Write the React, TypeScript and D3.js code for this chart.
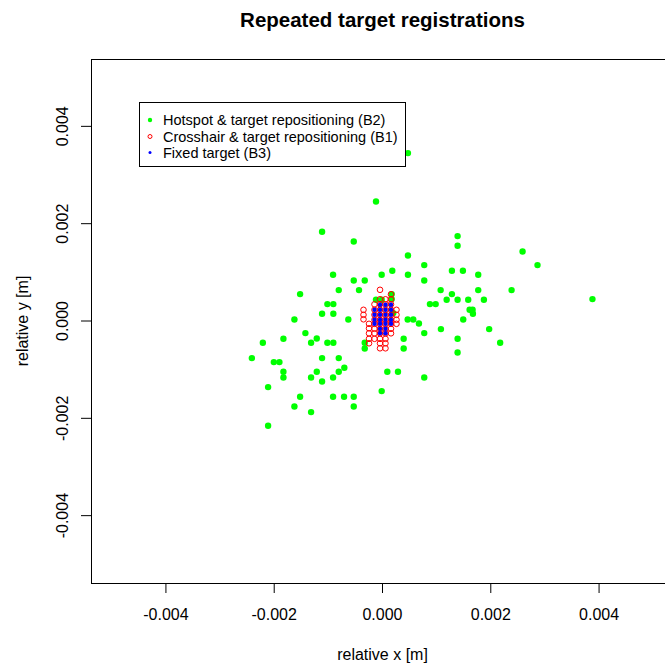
import React from "react";
import * as d3 from "d3";

// Hotspot & target repositioning (B2) — metres
const greenX = [
  -0.001116, -0.000531, -0.000913, -0.000531, -0.000808, -0.000434, -0.001522, -0.001018, -0.000908, -0.001116,
  -0.000908, -0.001627, -0.000631, -0.001424, -0.001214, -0.001319, -0.001018, -0.000908, -0.00183, -0.00221,
  -0.002413, -0.002007, -0.001904, -0.001116, -0.000808, -0.00183, -0.00183, -0.001214, -0.001319, -0.001116,
  -0.000808, -0.000705, -0.000913, -0.002113, -0.001522, -0.000913, -0.00071, -0.000531, -0.000531, -0.001627,
  -0.001319, -0.002113, 0.00047, -0.00012, 0.001387, 0.001387, 0.00047, 0.000771, 0.000181, 0.001282,
  0.001485, -0.000015, 0.00047, -0.000328, 0.000771, 0.001768, 0.001074, 0.001768, 0.001282, 0.00017,
  -0.00012, -0.000015, 0.001185, 0.001387, 0.001583, 0.001873, 0.000876, 0.000982, 0.001609, 0.00167,
  0.001664, 0.001491, 0.000465, 0.000568, 0.000673, 0.001079, 0.000771, 0.000391, 0.001387, 0.000391,
  -0.000328, -0.000328, 0.001387, 0.000089, 0.000286, 0.000771, -0.000015, 0.000199, 0.002587, 0.002863,
  0.002384, 0.003878, 0.00197, 0.002173, 0.00017,
];
const greenY = [
  0.001833, 0.001634, 0.000949, 0.000832, 0.000635, 0.000635, 0.000553, 0.000347, 0.000347, 0.000148,
  0.000148, 0.000031, 0.000031, -0.000249, -0.00036, -0.000448, -0.000448, -0.000448, -0.000366, -0.000448,
  -0.000762, -0.000845, -0.000845, -0.000762, -0.000762, -0.001044, -0.001161, -0.001044, -0.001161, -0.001243,
  -0.001044, -0.000962, -0.001161, -0.001358, -0.001558, -0.001558, -0.001558, -0.001558, -0.001757, -0.001757,
  -0.001872, -0.002154, 0.00345, 0.002456, 0.001745, 0.001545, 0.001346, 0.001149, 0.001032, 0.001032,
  0.001032, 0.000949, 0.000949, 0.000832, 0.000832, 0.000949, 0.000635, 0.000635, 0.000553, 0.000553,
  0.000436, 0.000436, 0.000436, 0.000436, 0.000436, 0.000436, 0.000347, 0.000347, 0.00023, 0.000148,
  0.00023, 0.000031, 0.000031, 0.000031, -0.000051, -0.000166, -0.000249, -0.000366, -0.000366, -0.000565,
  -0.000448, -0.000565, -0.000647, -0.001044, -0.001044, -0.001161, -0.001441, 0.000162, 0.001428, 0.001149,
  0.000635, 0.00045, -0.000166, -0.000448, 0.00045,
];

// Crosshair & target repositioning (B1)
const redX = [
  -0.000351, -0.000351, -0.000351,
  -0.000249, -0.000249, -0.000249, -0.000249, -0.000249,
  -0.000148, -0.000148, -0.000148, -0.000148, -0.000148, -0.000148, -0.000148, -0.000148,
  -0.000046, -0.000046, -0.000046, -0.000046, -0.000046, -0.000046, -0.000046, -0.000046, -0.000046, -0.000046, -0.000046, -0.000046,
  0.000055, 0.000055, 0.000055, 0.000055, 0.000055, 0.000055, 0.000055, 0.000055, 0.000055, 0.000055, 0.000055,
  0.000157, 0.000157, 0.000157, 0.000157, 0.000157, 0.000157, 0.000157, 0.000157, 0.000157,
  0.000258, 0.000258, 0.000258, 0.000258,
];
const redY = [
  0.00023, 0.000127, 0.000035,
  -0.000058, -0.00015, -0.000253, -0.000366, -0.000458,
  0.000343, 0.00023, 0.000127, 0.000025, -0.000058, -0.00016, -0.000253, -0.000366,
  0.000641, 0.000446, 0.000343, 0.00023, 0.000127, 0.000025, -0.000058, -0.00016, -0.000253, -0.000366, -0.000458, -0.000561,
  0.000446, 0.000343, 0.00023, 0.000127, 0.000025, -0.000058, -0.00016, -0.000253, -0.000366, -0.000458, -0.000561,
  0.000549, 0.000446, 0.000343, 0.00023, 0.000127, 0.000025, -0.000058, -0.00016, -0.000253,
  0.00023, 0.000127, 0.000025, -0.000058,
];

// Fixed target (B3)
const blueX = [
  -0.000148, -0.000148, -0.000148, -0.000148,
  -0.000046, -0.000046, -0.000046, -0.000046, -0.000046, -0.000046, -0.000046,
  0.000055, 0.000055, 0.000055, 0.000055, 0.000055, 0.000055, 0.000055,
  0.000157, 0.000157, 0.000157, 0.000157, 0.000157,
];
const blueY = [
  0.00023, 0.000127, 0.000025, -0.000058,
  0.000333, 0.00023, 0.000127, 0.000025, -0.000058, -0.00016, -0.000253,
  0.000333, 0.00023, 0.000127, 0.000025, -0.000058, -0.00016, -0.000253,
  0.000333, 0.00023, 0.000127, 0.000025, -0.000058,
];

const tickValues = [-0.004, -0.002, 0, 0.002, 0.004];
const tickLabels = ["-0.004", "-0.002", "0.000", "0.002", "0.004"];
const legendLabels = [
  "Hotspot & target repositioning (B2)",
  "Crosshair & target repositioning (B1)",
  "Fixed target (B3)",
];
const title = "Repeated target registrations";
const xLabel = "relative x [m]";
const yLabel = "relative y [m]";

const W = 665;
const H = 668;
const L = 91, R = 674, T = 59, B = 583;
const LIM = 0.005384;
const FONT = "'Liberation Sans', Arial, Helvetica, sans-serif";

export default function App() {
  const x = d3.scaleLinear().domain([-LIM, LIM]).range([L, R]);
  const y = d3.scaleLinear().domain([-LIM, LIM]).range([B, T]);
  const cx = (L + R) / 2;
  const cy = (T + B) / 2;

  const legX = 139, legY = 102, legW = 266, legH = 64;
  const rowY = [120, 136.5, 152.5];

  return (
    <svg
      width={W}
      height={H}
      style={{ position: "absolute", left: 0, top: 0, background: "#fff" }}
      fontFamily={FONT}
    >
      <defs>
        <clipPath id="plotclip">
          <rect x={L} y={T} width={R - L} height={B - T} />
        </clipPath>
      </defs>
      <rect x={0} y={0} width={W} height={H} fill="#fff" />
      <text x={cx} y={27} textAnchor="middle" fontSize={20.5} fontWeight="bold" fill="#000">
        {title}
      </text>

      <g clipPath="url(#plotclip)">
        {greenX.map((v, i) => (
          <circle key={"g" + i} cx={x(v)} cy={y(greenY[i])} r={3.2} fill="#00FF00" />
        ))}
        {redX.map((v, i) => (
          <circle key={"r" + i} cx={x(v)} cy={y(redY[i])} r={2.8} fill="none" stroke="#FF0000" strokeWidth={1} />
        ))}
        {blueX.map((v, i) => (
          <circle key={"b" + i} cx={x(v)} cy={y(blueY[i])} r={2.2} fill="#0000FF" />
        ))}
      </g>

      <rect x={L + 0.5} y={T + 0.5} width={R - L} height={B - T} fill="none" stroke="#000" strokeWidth={1} />

      {tickValues.map((v, i) => (
        <g key={"xt" + i}>
          <line x1={x(v)} x2={x(v)} y1={B} y2={B + 10} stroke="#000" />
          <text x={x(v)} y={620} textAnchor="middle" fontSize={16} fill="#000">
            {tickLabels[i]}
          </text>
        </g>
      ))}
      {tickValues.map((v, i) => (
        <g key={"yt" + i}>
          <line x1={L - 10} x2={L} y1={y(v)} y2={y(v)} stroke="#000" />
          <text
            transform={`translate(67.5,${y(v)}) rotate(-90)`}
            textAnchor="middle"
            fontSize={16}
            fill="#000"
          >
            {tickLabels[i]}
          </text>
        </g>
      ))}
      <text x={cx} y={660} textAnchor="middle" fontSize={16} fill="#000">
        {xLabel}
      </text>
      <text transform={`translate(28,${cy}) rotate(-90)`} textAnchor="middle" fontSize={16} fill="#000">
        {yLabel}
      </text>

      <g>
        <rect x={legX + 0.5} y={legY + 0.5} width={legW} height={legH} fill="#fff" stroke="#000" strokeWidth={1} />
        <circle cx={150} cy={rowY[0]} r={2.2} fill="#00FF00" />
        <circle cx={150} cy={rowY[1]} r={2} fill="none" stroke="#FF0000" strokeWidth={1} />
        <circle cx={150} cy={rowY[2]} r={1.5} fill="#0000FF" />
        {legendLabels.map((s, i) => (
          <text key={"l" + i} x={163} y={rowY[i] + 5} fontSize={14.5} fill="#000">
            {s}
          </text>
        ))}
      </g>
    </svg>
  );
}
